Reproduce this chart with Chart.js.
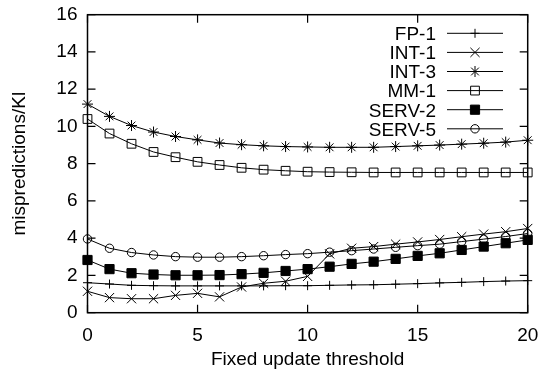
<!DOCTYPE html>
<html>
<head>
<meta charset="utf-8">
<script src="https://cdn.jsdelivr.net/npm/chart.js@4/dist/chart.umd.min.js"></script>
<style>
html,body{margin:0;padding:0;background:#fff;}
#wrap{width:540px;height:370px;position:relative;}
</style>
</head>
<body>
<div id="wrap"><canvas id="c" width="540" height="370"></canvas></div>
<script>
// ---- data ----
const thresholds = [0,1,2,3,4,5,6,7,8,9,10,11,12,13,14,15,16,17,18,19,20];
const seriesNames = ['FP-1','INT-1','INT-3','MM-1','SERV-2','SERV-5'];
const fp1   = [1.61,1.54,1.47,1.45,1.44,1.44,1.44,1.44,1.44,1.45,1.45,1.47,1.49,1.50,1.53,1.56,1.60,1.63,1.67,1.70,1.72];
const int1  = [1.15,0.81,0.75,0.75,0.93,1.04,0.85,1.38,1.58,1.69,1.95,3.16,3.46,3.55,3.68,3.80,3.93,4.08,4.22,4.35,4.52];
const int3  = [11.2,10.54,10.05,9.70,9.46,9.28,9.11,9.02,8.96,8.92,8.90,8.88,8.88,8.88,8.92,8.96,9.00,9.05,9.10,9.16,9.26];
const mm1   = [10.4,9.62,9.07,8.63,8.35,8.10,7.93,7.78,7.68,7.62,7.57,7.55,7.54,7.53,7.53,7.53,7.53,7.53,7.53,7.53,7.53];
const serv2 = [2.83,2.34,2.12,2.05,2.01,2.01,2.02,2.07,2.14,2.24,2.34,2.47,2.62,2.74,2.89,3.05,3.19,3.37,3.55,3.73,3.91];
const serv5 = [3.96,3.46,3.23,3.10,3.01,2.98,2.98,3.01,3.06,3.12,3.17,3.25,3.33,3.42,3.51,3.60,3.68,3.82,3.95,4.09,4.25];
const xTicks = [0,5,10,15,20];
const yTicks = [0,2,4,6,8,10,12,14,16];

const FONT = '"Liberation Sans", Arial, Helvetica, sans-serif';
const styles = [
  {pointStyle:'cross',    radius:4.5, fill:'rgba(0,0,0,0)'},
  {pointStyle:'crossRot', radius:6.5, fill:'rgba(0,0,0,0)'},
  {pointStyle:'star',     radius:5.5, fill:'rgba(0,0,0,0)'},
  {pointStyle:'rect',     radius:6.2, fill:'rgba(0,0,0,0)'},
  {pointStyle:'rect',     radius:6.5, fill:'#000'},
  {pointStyle:'circle',   radius:4.2, fill:'rgba(0,0,0,0)'}
];
const allValues = [fp1,int1,int3,mm1,serv2,serv5];

const datasets = allValues.map((vals,i)=>({
  label: seriesNames[i],
  data: thresholds.map((t,j)=>({x:t,y:vals[j]})),
  borderColor:'#000',
  borderWidth:1,
  backgroundColor: styles[i].fill,
  pointStyle: styles[i].pointStyle,
  pointRadius: styles[i].radius,
  pointBorderColor:'#000',
  pointBackgroundColor: styles[i].fill,
  pointBorderWidth:1,
  tension:0,
  clip:false
}));

function drawMarker(ctx, style, r, x, y, fill){
  ctx.save();
  ctx.strokeStyle='#000'; ctx.lineWidth=1; ctx.fillStyle=fill;
  ctx.beginPath();
  if(style==='cross'){
    ctx.moveTo(x-r,y);ctx.lineTo(x+r,y);ctx.moveTo(x,y-r);ctx.lineTo(x,y+r);ctx.stroke();
  } else if(style==='crossRot'){
    const o=r*Math.SQRT1_2;
    ctx.moveTo(x-o,y-o);ctx.lineTo(x+o,y+o);ctx.moveTo(x-o,y+o);ctx.lineTo(x+o,y-o);ctx.stroke();
  } else if(style==='star'){
    const o=r*Math.SQRT1_2;
    ctx.moveTo(x-r,y);ctx.lineTo(x+r,y);ctx.moveTo(x,y-r);ctx.lineTo(x,y+r);
    ctx.moveTo(x-o,y-o);ctx.lineTo(x+o,y+o);ctx.moveTo(x-o,y+o);ctx.lineTo(x+o,y-o);ctx.stroke();
  } else if(style==='rect'){
    const s=r*Math.SQRT1_2;
    ctx.rect(x-s,y-s,2*s,2*s);ctx.fill();ctx.stroke();
  } else if(style==='circle'){
    ctx.arc(x,y,r,0,Math.PI*2);ctx.fill();ctx.stroke();
  }
  ctx.restore();
}

const framePlugin = {
  id:'frame',
  beforeDatasetsDraw(chart){
    const {ctx, chartArea:a, scales} = chart;
    ctx.save();
    ctx.strokeStyle='#000';
    ctx.lineWidth=1.5;
    ctx.strokeRect(a.left,a.top,a.right-a.left,a.bottom-a.top);
    ctx.lineWidth=1.2;
    const tl=8;
    ctx.beginPath();
    xTicks.forEach(v=>{
      const px=scales.x.getPixelForValue(v);
      ctx.moveTo(px,a.bottom);ctx.lineTo(px,a.bottom-tl);
      ctx.moveTo(px,a.top);ctx.lineTo(px,a.top+tl);
    });
    yTicks.forEach(v=>{
      const py=scales.y.getPixelForValue(v);
      ctx.moveTo(a.left,py);ctx.lineTo(a.left+tl,py);
      ctx.moveTo(a.right,py);ctx.lineTo(a.right-tl,py);
    });
    ctx.stroke();
    ctx.restore();
  },
  afterDraw(chart){
    const ctx=chart.ctx;
    ctx.save();
    ctx.font='19px '+FONT;
    ctx.fillStyle='#000';
    ctx.textAlign='right';
    ctx.textBaseline='alphabetic';
    chart.data.datasets.forEach((ds,i)=>{
      const y=33.3+19.1*i;
      ctx.fillText(ds.label,436,y+6.8);
      ctx.strokeStyle='#000';ctx.lineWidth=1;
      ctx.beginPath();ctx.moveTo(447,y);ctx.lineTo(503,y);ctx.stroke();
      drawMarker(ctx,styles[i].pointStyle,styles[i].radius,475,y,styles[i].fill);
    });
    ctx.restore();
  }
};

new Chart(document.getElementById('c'),{
  type:'line',
  data:{datasets},
  options:{
    responsive:false,
    animation:false,
    devicePixelRatio:1,
    layout:{padding:{top:14.7,right:12.3,left:0,bottom:0}},
    plugins:{legend:{display:false},tooltip:{enabled:false}},
    elements:{line:{fill:false}},
    scales:{
      x:{
        type:'linear',min:0,max:20,
        afterBuildTicks(s){s.ticks=xTicks.map(v=>({value:v}));},
        afterFit(s){s.height=57.3;s.paddingLeft=0;s.paddingRight=0;},
        grid:{display:false,drawTicks:false},
        border:{display:false},
        ticks:{color:'#000',font:{family:FONT,size:19,lineHeight:1},padding:14,maxRotation:0,autoSkip:false},
        title:{display:true,text:'Fixed update threshold',color:'#000',font:{family:FONT,size:19,lineHeight:1},padding:{top:0,bottom:1.1}}
      },
      y:{
        type:'linear',min:0,max:16,
        afterBuildTicks(s){s.ticks=yTicks.map(v=>({value:v}));},
        afterFit(s){s.width=87.5;s.paddingTop=0;s.paddingBottom=0;},
        grid:{display:false,drawTicks:false},
        border:{display:false},
        ticks:{color:'#000',font:{family:FONT,size:19,lineHeight:1},padding:10,autoSkip:false},
        title:{display:true,text:'mispredictions/Kl',color:'#000',font:{family:FONT,size:19,lineHeight:1},padding:{top:10.75,bottom:0}}
      }
    }
  },
  plugins:[framePlugin]
});
</script>
</body>
</html>
